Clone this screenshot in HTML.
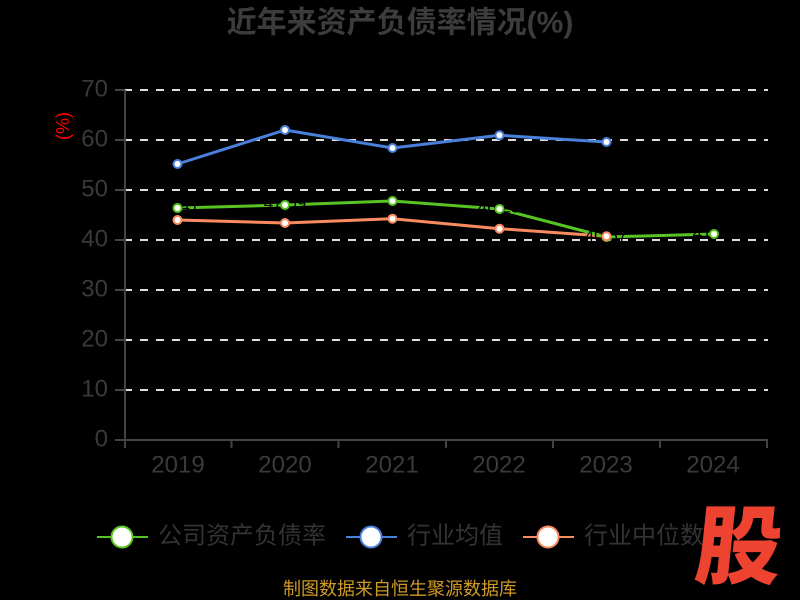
<!DOCTYPE html>
<html>
<head>
<meta charset="utf-8">
<style>
  html, body { margin: 0; padding: 0; background: #000; }
  body { width: 800px; height: 600px; overflow: hidden; }
  svg { display: block; }
  text { font-family: "Liberation Sans", "Noto Sans CJK SC", sans-serif; }
</style>
</head>
<body>
<svg width="800" height="600" viewBox="0 0 800 600" xmlns="http://www.w3.org/2000/svg">
  <rect x="0" y="0" width="800" height="600" fill="#000"/>

  <!-- Title -->
  <text x="400" y="23" text-anchor="middle" dominant-baseline="central" font-size="30" font-weight="bold" fill="#3c3c3c">近年来资产负债率情况(%)</text>

  <!-- Y axis name -->
  <text x="63" y="126" text-anchor="middle" dominant-baseline="central" font-size="18" fill="#ff0000" transform="rotate(-90 63 126)">(%)</text>

  <!-- Grid lines -->
  <g stroke="#dddddd" stroke-width="2" stroke-dasharray="8 8">
    <line x1="124" y1="90" x2="768" y2="90"/>
    <line x1="124" y1="140" x2="768" y2="140"/>
    <line x1="124" y1="190" x2="768" y2="190"/>
    <line x1="124" y1="240" x2="768" y2="240"/>
    <line x1="124" y1="290" x2="768" y2="290"/>
    <line x1="124" y1="340" x2="768" y2="340"/>
    <line x1="124" y1="390" x2="768" y2="390"/>
  </g>

  <!-- Axes -->
  <g stroke="#444" stroke-width="2">
    <line x1="125" y1="90" x2="125" y2="441"/>
    <line x1="124" y1="440" x2="768" y2="440"/>
    <!-- y ticks -->
    <line x1="115" y1="90" x2="125" y2="90"/>
    <line x1="115" y1="140" x2="125" y2="140"/>
    <line x1="115" y1="190" x2="125" y2="190"/>
    <line x1="115" y1="240" x2="125" y2="240"/>
    <line x1="115" y1="290" x2="125" y2="290"/>
    <line x1="115" y1="340" x2="125" y2="340"/>
    <line x1="115" y1="390" x2="125" y2="390"/>
    <line x1="115" y1="440" x2="125" y2="440"/>
    <!-- x ticks -->
    <line x1="125" y1="440" x2="125" y2="448"/>
    <line x1="231.5" y1="440" x2="231.5" y2="448"/>
    <line x1="338.5" y1="440" x2="338.5" y2="448"/>
    <line x1="446" y1="440" x2="446" y2="448"/>
    <line x1="553" y1="440" x2="553" y2="448"/>
    <line x1="660" y1="440" x2="660" y2="448"/>
    <line x1="767" y1="440" x2="767" y2="448"/>
  </g>

  <!-- Y labels -->
  <g font-size="24" fill="#3a3a3a" text-anchor="end" dominant-baseline="central">
    <text x="108" y="89">70</text>
    <text x="108" y="139">60</text>
    <text x="108" y="189">50</text>
    <text x="108" y="239">40</text>
    <text x="108" y="289">30</text>
    <text x="108" y="339">20</text>
    <text x="108" y="389">10</text>
    <text x="108" y="439">0</text>
  </g>

  <!-- X labels -->
  <g font-size="24" fill="#3a3a3a" text-anchor="middle" dominant-baseline="central">
    <text x="178" y="465">2019</text>
    <text x="285" y="465">2020</text>
    <text x="392" y="465">2021</text>
    <text x="499" y="465">2022</text>
    <text x="606" y="465">2023</text>
    <text x="713" y="465">2024</text>
  </g>

  <!-- Series: blue (industry average) -->
  <polyline fill="none" stroke="#4a80dc" stroke-width="3" stroke-linejoin="round"
    points="177.5,164 285,130 392.5,148 499.5,135.3 606.5,142"/>
  <!-- Series: orange (industry median) -->
  <polyline fill="none" stroke="#f98b5e" stroke-width="3" stroke-linejoin="round"
    points="177.5,220 285,223 392.5,218.7 499.5,228.7 606.5,236.3"/>
  <!-- Series: green (company) -->
  <polyline fill="none" stroke="#58c424" stroke-width="3" stroke-linejoin="round"
    points="177.5,208 285,205 392.5,201 499.5,209 606.5,237 714,234"/>

  <!-- Green labels (black, nearly invisible) -->
  <g font-size="17" fill="#000" text-anchor="middle" dominant-baseline="central">
    <text x="178" y="206">46.41</text>
    <text x="285" y="203">47.09</text>
    <text x="392" y="194">47.87</text>
    <text x="499" y="207">46.25</text>
    <text x="606" y="236">40.67</text>
    <text x="714" y="233">41.21</text>
  </g>

  <!-- Markers -->
  <g fill="#fff" stroke-width="2">
    <g stroke="#4a80dc">
      <circle cx="177.5" cy="164" r="4"/>
      <circle cx="285" cy="130" r="4"/>
      <circle cx="392.5" cy="148" r="4"/>
      <circle cx="499.5" cy="135.3" r="4"/>
      <circle cx="606.5" cy="142" r="4"/>
    </g>
    <g stroke="#58c424">
      <circle cx="177.5" cy="208" r="4"/>
      <circle cx="285" cy="205" r="4"/>
      <circle cx="392.5" cy="201" r="4"/>
      <circle cx="499.5" cy="209" r="4"/>
      <circle cx="606.5" cy="237" r="4"/>
      <circle cx="714" cy="234" r="4"/>
    </g>
    <g stroke="#f98b5e">
      <circle cx="177.5" cy="220" r="4"/>
      <circle cx="285" cy="223" r="4"/>
      <circle cx="392.5" cy="218.7" r="4"/>
      <circle cx="499.5" cy="228.7" r="4"/>
      <circle cx="606.5" cy="236.3" r="4"/>
    </g>
  </g>

  <!-- Legend -->
  <g stroke-width="2">
    <line x1="97" y1="537" x2="148" y2="537" stroke="#58c424"/>
    <circle cx="122" cy="537" r="10.5" fill="#fff" stroke="#58c424"/>
    <line x1="346" y1="537" x2="397" y2="537" stroke="#4a80dc"/>
    <circle cx="371" cy="537" r="10.5" fill="#fff" stroke="#4a80dc"/>
    <line x1="523" y1="537" x2="574" y2="537" stroke="#f98b5e"/>
    <circle cx="548" cy="537" r="10.5" fill="#fff" stroke="#f98b5e"/>
  </g>
  <g font-size="24" fill="#333" dominant-baseline="central">
    <text x="158" y="536">公司资产负债率</text>
    <text x="407" y="536">行业均值</text>
    <text x="584" y="536">行业中位数</text>
  </g>

  <!-- Footer -->
  <text x="400" y="589" text-anchor="middle" dominant-baseline="central" font-size="18" fill="#d09a26">制图数据来自恒生聚源数据库</text>

  <!-- Logo -->
  <g transform="translate(736 577) skewX(-6)">
    <text x="0" y="0" text-anchor="middle" font-size="86" font-weight="900" fill="#ee4330">股</text>
  </g>
</svg>
</body>
</html>
